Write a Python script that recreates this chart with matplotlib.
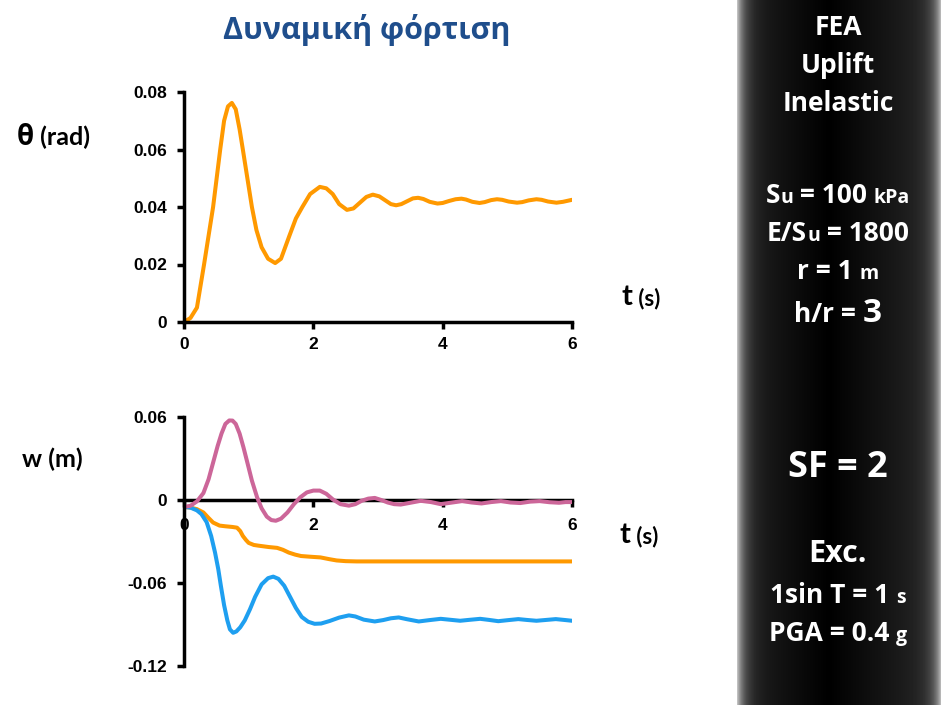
import numpy as np
import matplotlib
matplotlib.use('Agg')
import matplotlib.pyplot as plt

# rotation theta (rad) vs time (s)
t_theta = [0, 0.1, 0.2, 0.31, 0.45, 0.56, 0.62, 0.68, 0.74, 0.80, 0.86, 0.91, 0.98, 1.05, 1.12, 1.2,
           1.3, 1.41, 1.5, 1.63, 1.73, 1.83, 1.95, 2.1, 2.2, 2.3, 2.4, 2.52, 2.62, 2.72, 2.82, 2.92,
           3.02, 3.12, 3.2, 3.28, 3.36, 3.45, 3.54, 3.62, 3.7, 3.8, 3.92, 4.0, 4.1, 4.2, 4.29, 4.36,
           4.46, 4.57, 4.65, 4.75, 4.84, 4.92, 5.02, 5.15, 5.23, 5.33, 5.45, 5.53, 5.63, 5.76, 5.86, 6.0]
theta = [0, 0.0014, 0.005, 0.02, 0.04, 0.06, 0.07, 0.075, 0.0762, 0.074, 0.067, 0.06, 0.05, 0.04, 0.032, 0.026,
         0.022, 0.0205, 0.022, 0.03, 0.036, 0.04, 0.0445, 0.047, 0.0465, 0.0445, 0.041, 0.039, 0.0395, 0.0415, 0.0435, 0.0443,
         0.0437, 0.0422, 0.041, 0.0406, 0.041, 0.042, 0.043, 0.0432, 0.0428, 0.0418, 0.0412, 0.0414, 0.0421, 0.0427, 0.0429, 0.0426,
         0.0418, 0.0414, 0.0417, 0.0424, 0.0427, 0.0425, 0.0419, 0.0415, 0.0417, 0.0423, 0.0427, 0.0425, 0.0419, 0.0415, 0.0418, 0.0425]

# settlement w (m) vs time (s)
t_blue = [0, 0.1, 0.2, 0.27, 0.35, 0.42, 0.48, 0.53, 0.57, 0.62, 0.67, 0.71, 0.76, 0.81, 0.87, 0.94,
          1.02, 1.1, 1.2, 1.3, 1.38, 1.46, 1.55, 1.64, 1.73, 1.82, 1.92, 2.02, 2.12, 2.25, 2.4, 2.55,
          2.65, 2.78, 2.95, 3.08, 3.2, 3.32, 3.45, 3.63, 3.8, 3.97, 4.12, 4.27, 4.42, 4.58, 4.72, 4.86,
          5.0, 5.17, 5.3, 5.45, 5.6, 5.75, 5.9, 6.0]
w_blue = [-0.005, -0.0055, -0.0075, -0.0102, -0.016, -0.026, -0.038, -0.05, -0.062, -0.076, -0.087, -0.0935, -0.096, -0.095, -0.092, -0.087,
          -0.079, -0.07, -0.061, -0.0565, -0.0554, -0.057, -0.062, -0.07, -0.078, -0.0845, -0.088, -0.0895, -0.0893, -0.0875, -0.085, -0.0834,
          -0.0842, -0.0865, -0.0878, -0.0868, -0.0855, -0.0849, -0.0862, -0.0878, -0.0868, -0.0859, -0.0866, -0.0873, -0.0866, -0.0859, -0.0867, -0.0876,
          -0.0869, -0.0861, -0.0867, -0.0873, -0.0867, -0.0861, -0.0868, -0.0873]

t_pink = [0, 0.1, 0.2, 0.3, 0.38, 0.45, 0.52, 0.58, 0.64, 0.7, 0.75, 0.8, 0.86, 0.92, 0.98, 1.05,
          1.13, 1.2, 1.28, 1.35, 1.42, 1.5, 1.6, 1.7, 1.8, 1.9, 2.0, 2.1, 2.2, 2.3, 2.42, 2.55,
          2.65, 2.75, 2.85, 2.95, 3.05, 3.15, 3.25, 3.35, 3.5, 3.66, 3.82, 3.97, 4.12, 4.3, 4.45, 4.6,
          4.75, 4.9, 5.05, 5.2, 5.35, 5.5, 5.65, 5.8, 5.9, 6.0]
w_pink = [-0.005, -0.0042, -0.001, 0.005, 0.015, 0.027, 0.039, 0.048, 0.055, 0.0575, 0.0574, 0.055, 0.048, 0.038, 0.027, 0.014,
          0.002, -0.006, -0.012, -0.0145, -0.015, -0.0135, -0.009, -0.003, 0.002, 0.0055, 0.0068, 0.0068, 0.0045, 0.0005, -0.003, -0.0041,
          -0.003, -0.0005, 0.001, 0.0015, 0.0, -0.0018, -0.003, -0.0033, -0.002, -0.0006, -0.0015, -0.003, -0.002, -0.0008, -0.0018, -0.0025,
          -0.0015, -0.0008, -0.0018, -0.0022, -0.0012, -0.0008, -0.0016, -0.002, -0.0015, -0.0015]

t_orange = [0, 0.1, 0.2, 0.3, 0.38, 0.45, 0.55, 0.64, 0.75, 0.82, 0.87, 0.91, 0.96, 1.0, 1.08, 1.15,
            1.31, 1.44, 1.53, 1.62, 1.72, 1.81, 1.95, 2.11, 2.25, 2.36, 2.5, 2.67, 3.0, 4.0, 5.0, 6.0]
w_orange = [-0.005, -0.0055, -0.0066, -0.009, -0.013, -0.0163, -0.0185, -0.019, -0.0195, -0.020, -0.0225, -0.026, -0.029, -0.031, -0.0325, -0.033,
            -0.034, -0.0346, -0.036, -0.038, -0.0395, -0.0405, -0.041, -0.0415, -0.0428, -0.0437, -0.0442, -0.0444, -0.0444, -0.0444, -0.0444, -0.0444]

orange = '#FF9900'
blue = '#1E9FF0'
pink = '#CC6699'
tick_font = 'Liberation Sans'
label_font = 'Lato'
panel_font = 'Open Sans'

fig = plt.figure(figsize=(9.53, 7.05), dpi=100)
fig.patch.set_facecolor('white')

def style_axes(ax, xpad=6):
    for s in ['top', 'right']:
        ax.spines[s].set_visible(False)
    for s in ['left', 'bottom']:
        ax.spines[s].set_linewidth(2.5)
        ax.spines[s].set_color('black')
    ax.tick_params(width=2.5, length=5, direction='out', labelsize=12.5)
    ax.tick_params(axis='y', pad=7)
    ax.tick_params(axis='x', pad=xpad)
    for lab in ax.get_xticklabels() + ax.get_yticklabels():
        lab.set_fontfamily(tick_font)
        lab.set_fontweight('bold')

line_kw = dict(lw=2.9, solid_capstyle='round', solid_joinstyle='round')

# top axes: rotation
ax1 = fig.add_axes([184 / 953, 1 - 322 / 705, 388 / 953, 230 / 705])
ax1.plot(t_theta, theta, color=orange, **line_kw)
ax1.set_xlim(0, 6)
ax1.set_ylim(0, 0.08)
ax1.set_xticks([0, 2, 4, 6])
ax1.set_yticks([0, 0.02, 0.04, 0.06, 0.08])
ax1.set_yticklabels(['0', '0.02', '0.04', '0.06', '0.08'])
ax1.set_xticklabels(['0', '2', '4', '6'])
style_axes(ax1)

# bottom axes: settlement
ax2 = fig.add_axes([184 / 953, 1 - 666 / 705, 388 / 953, 249 / 705])
ax2.plot(t_orange, w_orange, color=orange, **line_kw)
ax2.plot(t_blue, w_blue, color=blue, **line_kw)
ax2.plot(t_pink, w_pink, color=pink, **line_kw)
ax2.set_xlim(0, 6)
ax2.set_ylim(-0.12, 0.06)
ax2.spines['bottom'].set_position(('data', 0))
ax2.spines['bottom'].set_zorder(1)
ax2.set_xticks([0, 2, 4, 6])
ax2.set_xticklabels(['0', '2', '4', '6'])
ax2.set_yticks([-0.12, -0.06, 0, 0.06])
ax2.set_yticklabels(['-0.12', '-0.06', '0', '0.06'])
style_axes(ax2, xpad=8)

# title
fig.text(367 / 953, 1 - 30 / 705, 'Δυναμική φόρτιση', ha='center', va='center',
         fontsize=22, fontweight='bold', color='#1F4E8C', family=panel_font)

renderer = fig.canvas.get_renderer()

def mixed(x_px, y_px, pieces, color='black', family=tick_font, align='center'):
    # pieces: (text, fontsize) or (text, fontsize, family); common baseline at y_px
    objs = []
    widths = []
    for p in pieces:
        s, fs = p[0], p[1]
        fam = p[2] if len(p) > 2 else family
        tx = fig.text(0, 0, s, fontsize=fs, fontweight='bold', color=color,
                      family=fam, ha='left', va='baseline')
        bb = tx.get_window_extent(renderer)
        objs.append(tx)
        widths.append(bb.width)
    total = sum(widths)
    x0 = x_px - total / 2 if align == 'center' else x_px
    for tx, wd in zip(objs, widths):
        tx.set_position((x0 / 953, 1 - y_px / 705))
        x0 += wd

# axis labels
mixed(17, 145, [('θ', 20, panel_font), (' (rad)', 18)], family=label_font, align='left')
mixed(622, 305, [('t', 21), (' (s)', 16)], family=label_font, align='left')
mixed(22, 467, [('w (m)', 18)], family=label_font, align='left')
mixed(620, 543, [('t', 21), (' (s)', 16)], family=label_font, align='left')

# dark side panel with shaded edges
pax = fig.add_axes([737 / 953, 0, 204 / 953, 1])
pax.set_axis_off()
u = np.linspace(0, 1, 204)
edge = np.exp(-u / 0.035) * 0.62 + np.exp(-(1 - u) / 0.035) * 0.55
body = 0.16 * np.abs(u - 0.45) / 0.55
grad = np.clip(edge + body, 0, 1)
pax.imshow(np.tile(grad, (10, 1)), cmap='gray', vmin=0, vmax=1, aspect='auto',
           extent=[0, 1, 0, 1])
pax.set_xlim(0, 1)
pax.set_ylim(0, 1)

cx = 838
mixed(cx, 35, [('FEA', 19)], color='white', family=panel_font)
mixed(cx, 73, [('Uplift', 19)], color='white', family=panel_font)
mixed(cx, 111, [('Inelastic', 19)], color='white', family=panel_font)
mixed(cx, 203, [('S', 19), ('u', 14), (' = 100 ', 19), ('kPa', 14)], color='white', family=panel_font)
mixed(cx, 241, [('E/S', 19), ('u', 14), (' = 1800', 19)], color='white', family=panel_font)
mixed(cx, 279, [('r = 1 ', 19), ('m', 14)], color='white', family=panel_font)
mixed(cx, 322, [('h/r = ', 19), ('3', 24)], color='white', family=panel_font)
mixed(cx, 477, [('SF = 2', 26)], color='white', family=panel_font)
mixed(cx, 562, [('Exc.', 22)], color='white', family=panel_font)
mixed(cx, 603, [('1sin T = 1 ', 19), ('s', 14)], color='white', family=panel_font)
mixed(cx, 641, [('PGA = 0.4 ', 19), ('g', 14)], color='white', family=panel_font)

fig.savefig('out.png', dpi=100, facecolor='white')
